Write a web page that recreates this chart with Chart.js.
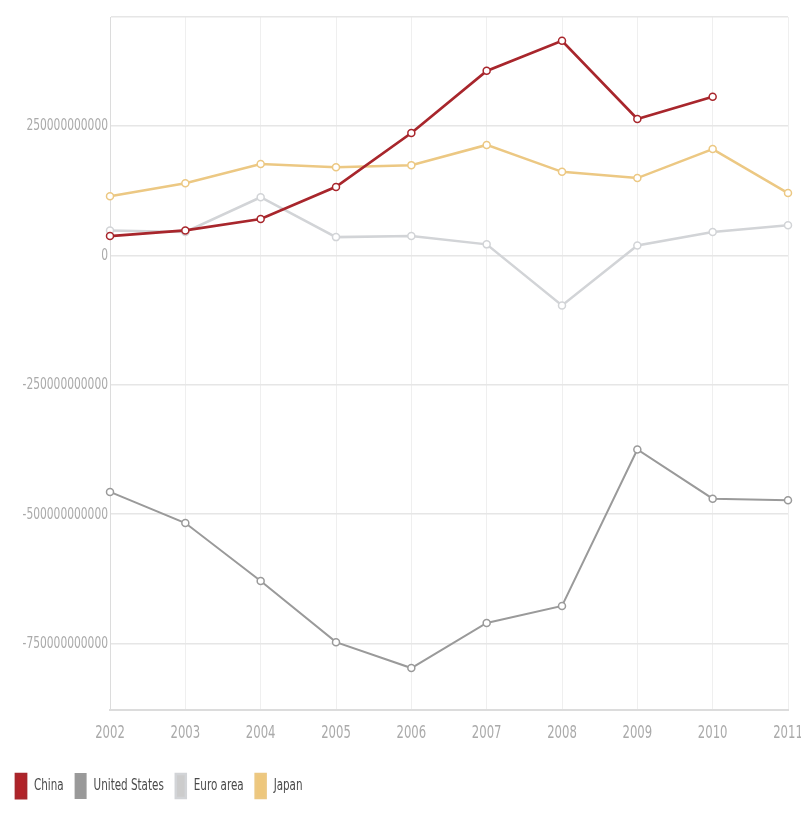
<!DOCTYPE html>
<html lang="en">
<head>
    <meta charset="UTF-8">
    <title>Current account balance</title>
    <script src="https://cdn.jsdelivr.net/npm/chart.js@4.4.1/dist/chart.umd.min.js"></script>
    <style>
        body { margin: 0; background: #fff; }
        #wrap { width: 801px; height: 833px; position: relative; }
    </style>
</head>
<body>
    <div id="wrap"><canvas id="chart_area"></canvas></div>
    <script>
        // values, in US dollars
        const years = ['2002', '2003', '2004', '2005', '2006', '2007', '2008', '2009', '2010', '2011'];
        const china = [37e9, 48e9, 70e9, 132e9, 236e9, 356e9, 414e9, 263e9, 306e9, null];
        const united_states = [-457e9, -517e9, -629e9, -747e9, -797e9, -710e9, -677e9, -375e9, -470e9, -473e9];
        const euro_area = [48e9, 45e9, 112e9, 35e9, 37e9, 21e9, -97e9, 19e9, 45e9, 58e9];
        const japan = [114e9, 139e9, 176e9, 170e9, 174e9, 213e9, 161e9, 149e9, 205e9, 120e9];
        const y_ticks = [-750e9, -500e9, -250e9, 0, 250e9];
        const y_min = -878e9;
        const y_max = 460e9;

        const font_family = '"DejaVu Sans Condensed", "DejaVu Sans", sans-serif';
        // the original text is tall and narrow, so squeeze the glyphs sideways
        const text_squeeze = 0.72;

        const squeeze_text = {
            id: 'squeeze_text',
            beforeInit: function(chart) {
                var c = chart.ctx;
                var fill = c.fillText.bind(c);
                var measure = c.measureText.bind(c);
                c.measureText = function(text) {
                    var m = measure(text);
                    return {
                        width: m.width * text_squeeze,
                        actualBoundingBoxAscent: m.actualBoundingBoxAscent,
                        actualBoundingBoxDescent: m.actualBoundingBoxDescent
                    };
                };
                c.fillText = function(text, x, y) {
                    fill(text, x, y, measure(text).width * text_squeeze);
                };
            }
        };

        function series(label, data, color, legend_color, width) {
            return {
                label: label,
                data: data,
                borderColor: color,
                backgroundColor: legend_color,
                borderWidth: width,
                tension: 0,
                pointRadius: 3.5,
                pointBackgroundColor: '#fff',
                pointBorderColor: color,
                pointBorderWidth: 1.5,
                fill: false
            };
        }

        var config = {
            type: 'line',
            data: {
                labels: years,
                datasets: [
                    series('China', china, '#a8262c', '#b22228', 2.75),
                    series('United States', united_states, '#9a9a9a', '#999999', 2),
                    series('Euro area', euro_area, '#d2d4d7', '#cccccc', 2.5),
                    series('Japan', japan, '#ecc883', '#eec77c', 2.5)
                ]
            },
            plugins: [squeeze_text],
            options: {
                responsive: true,
                maintainAspectRatio: false,
                animation: false,
                layout: { padding: { top: 17, right: 13, bottom: 25, left: 4 } },
                plugins: {
                    tooltip: { enabled: false },
                    legend: {
                        position: 'bottom',
                        align: 'start',
                        labels: {
                            boxWidth: 10,
                            boxHeight: 24,
                            padding: 12,
                            color: '#4a4a4a',
                            font: { family: font_family, size: 16 }
                        }
                    }
                },
                scales: {
                    x: {
                        afterFit: function(scale) {
                            scale.height = 52;
                            scale.paddingLeft = 0;
                            scale.paddingRight = 0;
                        },
                        grid: { color: '#efefef', lineWidth: 1, drawTicks: false },
                        border: { color: '#dcdcdc', width: 2 },
                        ticks: {
                            color: '#aaa',
                            padding: 13,
                            maxRotation: 0,
                            autoSkip: false,
                            font: { family: font_family, size: 18 }
                        }
                    },
                    y: {
                        min: y_min,
                        max: y_max,
                        afterFit: function(scale) { scale.width = 106; },
                        afterBuildTicks: function(scale) {
                            scale.ticks = [y_min].concat(y_ticks, [y_max]).map(function(v) { return { value: v }; });
                        },
                        grid: { color: '#e6e6e6', lineWidth: 1.5, drawTicks: false },
                        border: { color: '#dcdcdc', width: 1 },
                        ticks: {
                            color: '#aaa',
                            padding: 2,
                            font: { family: font_family, size: 16.5 },
                            callback: function(value) {
                                return y_ticks.indexOf(value) >= 0 ? String(value) : '';
                            }
                        }
                    }
                }
            }
        };

        var ctx = document.getElementById('chart_area').getContext('2d');
        window.myLine = new Chart(ctx, config);
    </script>
</body>
</html>
